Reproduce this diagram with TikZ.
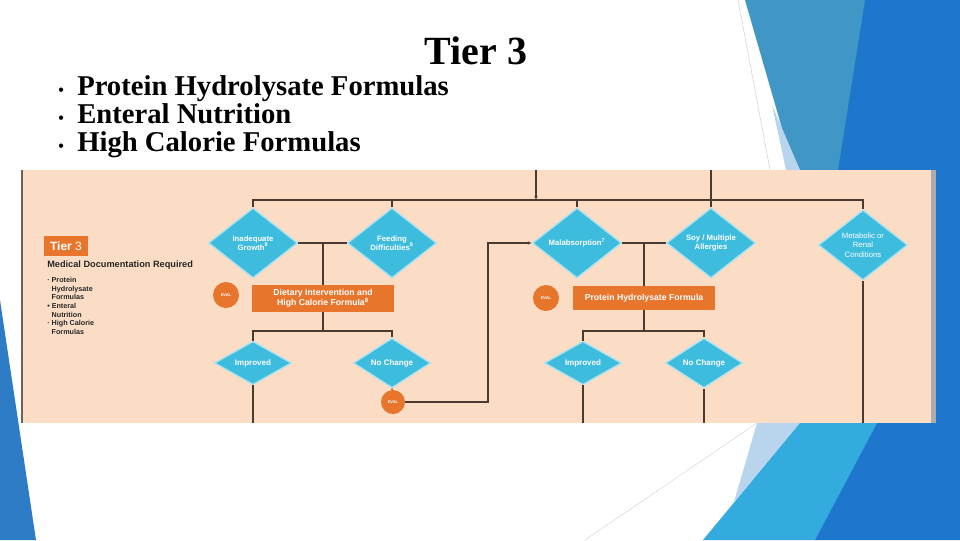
\documentclass[tikz,border=0pt]{standalone}
\usepackage{fontspec}
\setmainfont{Liberation Serif}
\setsansfont{Liberation Sans}
\usetikzlibrary{positioning,arrows.meta,shapes.geometric}

\definecolor{peach}{RGB}{251,221,197}
\definecolor{dcyan}{RGB}{62,188,222}
\definecolor{orng}{RGB}{232,117,44}
\definecolor{wire}{RGB}{74,58,48}
\definecolor{bteal}{RGB}{64,150,196}
\definecolor{bdark}{RGB}{30,119,204}
\definecolor{bbright}{RGB}{52,171,223}
\definecolor{bpale}{RGB}{185,213,238}
\definecolor{bleft}{RGB}{46,124,198}

\begin{document}
\begin{tikzpicture}[
    x=0.75pt, y=-0.75pt,
    conn/.style={wire, line width=0.9pt},
    arr/.style={conn, -{Latex[length=3pt,width=2.6pt]}},
    dia/.style={diamond, fill=dcyan, draw=white!55!dcyan, line width=1pt, inner sep=0pt,
      text=white, align=center, font=\sffamily\bfseries\fontsize{5.8}{6.8}\selectfont},
    bigdia/.style={dia, minimum width=66.75pt, minimum height=52.5pt},
    smalldia/.style={dia, minimum width=57.75pt, minimum height=28.5pt,
      font=\sffamily\bfseries\fontsize{6}{7}\selectfont},
    formbox/.style={rectangle, fill=orng, text=white, align=center, inner sep=0pt,
      minimum width=106.5pt, font=\sffamily\bfseries\fontsize{6.5}{7.5}\selectfont},
    evaldot/.style={circle, fill=orng, text=white, inner sep=0pt, minimum size=19.5pt,
      font=\sffamily\bfseries\fontsize{3}{3}\selectfont},
    bullet/.style={anchor=base west, inner sep=0pt, font=\bfseries\fontsize{21.5}{22}\selectfont},
  ]
  \useasboundingbox (0,0) rectangle (960,540);
  \fill[white] (0,0) rectangle (960,540);

  % slide background facets
  \fill[bdark] (860,0) -- (960,0) -- (960,540) -- (815,540) -- (835,170) -- cycle;
  \fill[bteal] (745,0) -- (865,0) -- (838,170) -- (794,170) -- cycle;
  \fill[bpale] (772,105) -- (800,170) -- (786,170) -- cycle;
  \draw[gray!35, line width=0.4pt] (738,0) -- (770,170);
  \fill[bpale] (757,423) -- (800,423) -- (734,502) -- cycle;
  \fill[bbright] (800,423) -- (877,423) -- (815,540) -- (703,540) -- cycle;
  \draw[gray!30, line width=0.4pt] (585,540) -- (757,423);
  \fill[bleft] (0,300) -- (36,540) -- (0,540) -- cycle;

  % heading and list
  \node[anchor=base, font=\bfseries\fontsize{30}{32}\selectfont] (ttl) at (476,64) {Tier 3};
  \foreach \y/\txt [count=\i] in {95/Protein Hydrolysate Formulas, 123/Enteral Nutrition, 151/High Calorie Formulas}
    \node[bullet] (item\i) at (58,\y) {\makebox[14.25pt][l]{\fontsize{12}{12}\selectfont•}\txt};

  % flow chart panel
  \fill[peach] (22,170) rectangle (935,423);
  \draw[wire!80, line width=1pt] (22,170) -- (22,423);
  \fill[gray!65] (931,170) rectangle (936,423);

  \node[fill=orng, text=white, inner sep=0pt, minimum width=33pt, minimum height=15pt,
    font=\sffamily\fontsize{9}{9}\selectfont] (tier) at (66,246) {\textbf{Tier} 3};
  \node[anchor=west, inner sep=0pt, text=black!85, font=\sffamily\bfseries\fontsize{6.9}{7.5}\selectfont]
    (docs) at (47,265) {Medical Documentation Required};
  \node[anchor=north west, inner sep=0pt, align=left, text=black!85,
    font=\sffamily\bfseries\fontsize{5.4}{6.5}\selectfont] (docl) at (47,277)
    {· Protein\\\hphantom{· }Hydrolysate\\\hphantom{· }Formulas\\• Enteral\\\hphantom{· }Nutrition\\· High Calorie\\\hphantom{· }Formulas};

  % named points of the buses
  \coordinate (bus) at (0,200);
  \coordinate (busa) at (0,331);
  \coordinate (floor) at (0,423);
  \coordinate (tierin) at (536,170);
  \coordinate (soyin) at (711,170);
  \coordinate (loop) at (488,300);

  % first row
  \node[bigdia] (ig) at (253,243) {Inadequate\\Growth\textsuperscript{8}};
  \node[bigdia] (fd) at (392,243) {Feeding\\Difficulties\textsuperscript{8}};
  \node[bigdia] (ma) at (577,243) {Malabsorption\textsuperscript{7}};
  \node[bigdia] (sa) at (711,243) {Soy / Multiple\\Allergies};
  \node[bigdia, font=\sffamily\fontsize{5.8}{7}\selectfont] (mc) at (863,245) {Metabolic or\\Renal\\Conditions};

  % formulas
  \node[formbox, minimum height=20pt] (di) at (323,298.5) {Dietary Intervention and\\High Calorie Formula\textsuperscript{8}};
  \node[formbox, minimum height=18pt] (hp) at (644,298) {Protein Hydrolysate Formula};
  \node[evaldot] (ev1) at (226,295) {EVAL};
  \node[evaldot] (ev2) at (546,298) {EVAL};

  % outcomes
  \node[smalldia] (im1) at (253,363) {Improved};
  \node[smalldia] (nc1) at (392,363) {No Change};
  \node[smalldia] (im2) at (583,363) {Improved};
  \node[smalldia] (nc2) at (704,363) {No Change};
  \node[evaldot, minimum size=18pt] (ev3) at (393,402) {EVAL};

  % connectors
  \draw[conn] (ig.north) -- (ig.north |- bus) -- (mc.north |- bus) -- (mc.north);
  \draw[conn] (fd.north) -- (fd.north |- bus);
  \draw[conn] (ma.north) -- (ma.north |- bus);
  \draw[conn] (soyin) -- (sa.north);
  \draw[arr] (tierin) -- (tierin |- bus);

  \draw[conn] (ig.east) -- (fd.west);
  \draw[conn] (di.north |- ig.east) -- (di.north);
  \draw[conn] (ma.east) -- (sa.west);
  \draw[conn] (hp.north |- ma.east) -- (hp.north);

  \draw[conn] (di.south) -- (di.south |- busa);
  \draw[conn] (im1.north) -- (im1.north |- busa) -- (nc1.north |- busa) -- (nc1.north);
  \draw[conn] (hp.south) -- (hp.south |- busa);
  \draw[conn] (im2.north) -- (im2.north |- busa) -- (nc2.north |- busa) -- (nc2.north);

  \draw[conn] (nc1.south) -- (ev3);
  \draw[arr] (ev3.east) -| (loop) |- (ma.west);

  \foreach \n in {im1, im2, nc2, mc}
    \draw[conn] (\n.south) -- (\n.south |- floor);
\end{tikzpicture}
\end{document}
